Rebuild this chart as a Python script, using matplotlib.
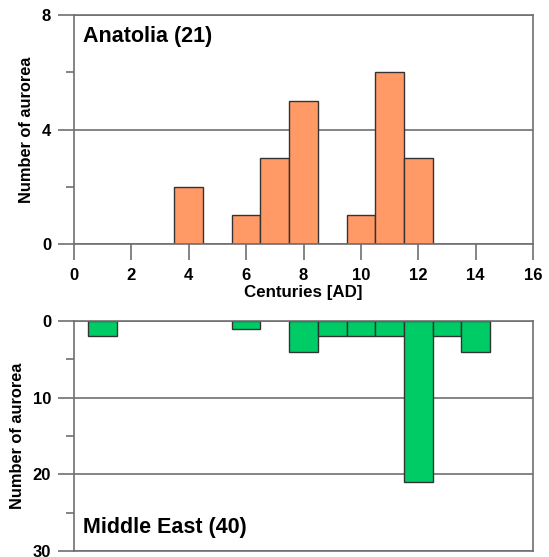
import matplotlib
matplotlib.use("Agg")
from matplotlib import pyplot as plt

plt.rcParams['font.family'] = ['Liberation Sans', 'DejaVu Sans']
plt.rcParams['font.weight'] = 'bold'

# Anatolia counts per century
anatolia_cent = [4, 6, 7, 8, 10, 11, 12]
anatolia_count = [2, 1, 3, 5, 1, 6, 3]

# Middle East counts per century
mideast_cent = [1, 6, 8, 9, 10, 11, 12, 13, 14]
mideast_count = [2, 1, 4, 2, 2, 2, 21, 2, 4]

orange = '#FF9966'
green = '#00CC66'
edge = '#333333'
gray = '#707070'

W, H = 549, 557
fig = plt.figure(figsize=(W/100, H/100), dpi=100)


def px_axes(left, top, right, bottom):
    return fig.add_axes([left/W, 1 - bottom/H, (right-left)/W, (bottom-top)/H])


def style(ax, label_x):
    for s in ax.spines.values():
        s.set_color(gray)
        s.set_linewidth(1.2)
    ax.tick_params(axis='y', which='major', direction='out', length=11.5, width=1.2,
                   color=gray, labelsize=12, pad=5)
    ax.tick_params(axis='y', which='minor', direction='out', length=5.8, width=1.2,
                   color=gray)
    ax.yaxis.grid(True, which='major', color=gray, linewidth=1.2)
    ax.set_axisbelow(True)
    for t in ax.get_yticklabels():
        t.set_fontweight('bold')
    ax.set_ylabel('Number of aurorea', fontsize=11.8, fontweight='bold')
    ax.yaxis.set_label_coords(label_x, 0.5)


# top panel
ax1 = px_axes(74, 15, 533, 244)
ax1.bar(anatolia_cent, anatolia_count, width=1.0, color=orange, edgecolor=edge, linewidth=1)
ax1.set_xlim(0, 16)
ax1.set_ylim(0, 8)
ax1.set_yticks([0, 4, 8])
ax1.set_yticks([2, 6], minor=True)
ax1.set_xticks(range(0, 17, 2))
style(ax1, -0.088)
ax1.tick_params(axis='x', direction='out', length=11.5, width=1.2, color=gray,
                labelsize=12, pad=6)
for t in ax1.get_xticklabels():
    t.set_fontweight('bold')
ax1.set_xlabel('Centuries [AD]', fontsize=12.2, fontweight='bold', labelpad=1)
ax1.text(0.02, 0.908, 'Anatolia (21)', transform=ax1.transAxes, fontsize=15.5,
         fontweight='bold', va='center', ha='left')

# bottom panel
ax2 = px_axes(74, 321, 533, 551)
ax2.bar(mideast_cent, mideast_count, width=1.0, color=green, edgecolor=edge, linewidth=1)
ax2.set_xlim(0, 16)
ax2.set_ylim(30, 0)
ax2.set_yticks([0, 10, 20, 30])
ax2.set_yticks([5, 15, 25], minor=True)
ax2.set_xticks([])
style(ax2, -0.107)
ax2.text(0.02, 0.1, 'Middle East (40)', transform=ax2.transAxes, fontsize=15.5,
         fontweight='bold', va='center', ha='left')

fig.savefig('out.png', dpi=100)
